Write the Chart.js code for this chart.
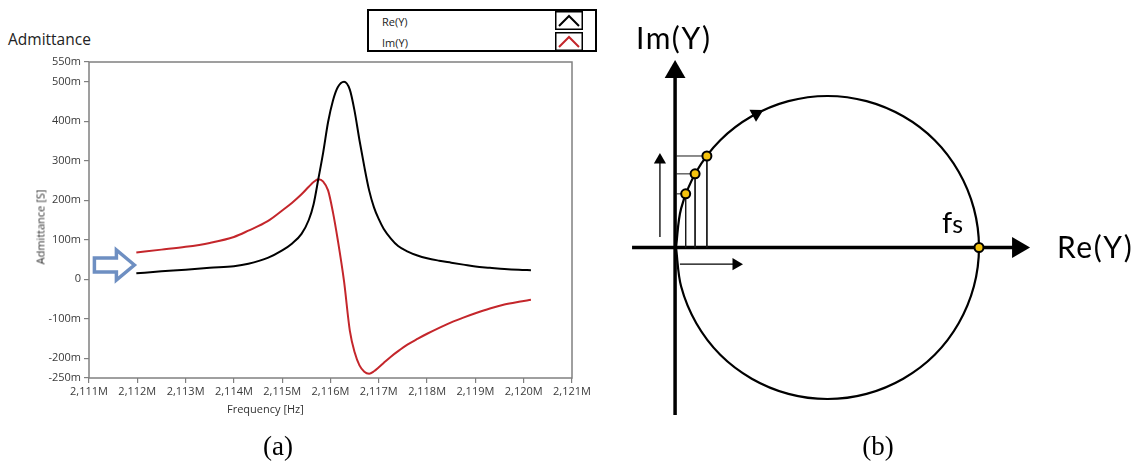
<!DOCTYPE html>
<html lang="en">
<head>
<meta charset="utf-8">
<title>Admittance of the resonator</title>
<script src="https://cdn.jsdelivr.net/npm/chart.js@4.4.1/dist/chart.umd.min.js"></script>
<style>
  body { margin: 0; background: #fff; }
  #page { position: relative; width: 1140px; height: 463px; overflow: hidden; }
  #page canvas, .txt { position: absolute; }
  .txt { white-space: nowrap; line-height: 1; color: #000; }
  .ui { font-family: 'Open Sans', sans-serif; }
  .sketch { font-family: Lato, sans-serif; letter-spacing: 1.5px; }
  .cap { font-family: 'Liberation Serif', serif; font-size: 27px; width: 100px; text-align: center; }
  #legend { position: absolute; left: 367px; top: 9px; width: 230px; height: 43px; box-sizing: border-box; border: 2px solid #000; background: #fff; }
  #legend .row { position: absolute; left: 0; width: 100%; height: 20px; }
  #legend .name { position: absolute; left: 13px; top: 3px; font: 11px 'Open Sans', sans-serif; color: #222; }
  #legend svg { position: absolute; left: 186px; top: 0; }
</style>
</head>
<body>
<div id="page">
  <div class="txt ui" style="left:8px;top:32px;font-size:15.5px;color:#222">Admittance</div>
  <div id="legend"></div>
  <canvas id="adm" width="600" height="425" style="left:0;top:0"></canvas>
  <div class="txt ui" style="left:227px;top:403px;font-size:11px;color:#333">Frequency [Hz]</div>
  <div class="txt ui" style="left:40px;top:227px;font-size:11px;color:#333;transform:translate(-50%,-50%) rotate(-90deg)">Admittance [S]</div>

  <!-- canvas is 12px larger on each side: Chart.js keeps that much room for the arrowheads -->
  <canvas id="nyq" width="564" height="454" style="left:588px;top:-12px"></canvas>
  <div class="txt sketch" style="left:636px;top:22px;font-size:30px">Im(Y)</div>
  <div class="txt sketch" style="left:1057px;top:231px;font-size:30px">Re(Y)</div>
  <div class="txt sketch" style="left:942px;top:207px;font-size:29px;letter-spacing:0">f<span style="font-size:25px">s</span></div>

  <div class="txt cap" style="left:228px;top:433px">(a)</div>
  <div class="txt cap" style="left:828px;top:433px">(b)</div>
</div>

<script>
// ---- (a) admittance sweep, frequency in kHz, admittance in mS ----
const freqKHz = [2111.98, 2112.5, 2113.0, 2113.5, 2114.0, 2114.3, 2114.7, 2115.0, 2115.2, 2115.4,
  2115.55, 2115.65, 2115.75, 2115.85, 2115.95, 2116.05, 2116.15, 2116.28, 2116.4, 2116.5,
  2116.6, 2116.7, 2116.8, 2116.9, 2117.0, 2117.1, 2117.25, 2117.4, 2117.6, 2117.8,
  2118.0, 2118.25, 2118.5, 2118.75, 2119.0, 2119.3, 2119.6, 2119.9, 2120.15];
const reY = [15, 20, 24, 29, 33, 39, 54, 73, 90, 115,
  150, 190, 255, 322, 398, 452, 486, 500, 480, 425,
  352, 285, 225, 182, 152, 128, 103, 84, 70, 60,
  53, 47, 42, 37, 32, 29, 26, 24, 23];
const imY = [68, 75, 82, 92, 107, 123, 147, 174, 193, 215,
  234, 246, 253, 247, 225, 170, 100, -5, -130, -185,
  -218, -234, -239, -233, -223, -212, -196, -182, -165, -151,
  -138, -123, -109, -97, -86, -74, -64, -57, -52];
const yTicks = [-250, -200, -100, 0, 100, 200, 300, 400, 500, 550];
const seriesNames = ['Re(Y)', 'Im(Y)'];
const seriesColors = ['#000000', '#c4262b'];
const arrowTip = { x: 2111.94, y: 36 };

// ---- (b) admittance circle, Re(Y) scaled so that f_s lands on 1 ----
const circleRe = [0, 0.017, 0.067, 0.146, 0.25, 0.371, 0.5, 0.629, 0.75, 0.854, 0.933, 0.983, 1,
  0.983, 0.933, 0.854, 0.75, 0.629, 0.5, 0.371, 0.25, 0.146, 0.067, 0.017, 0];
const circleIm = [0, 0.129, 0.25, 0.354, 0.433, 0.483, 0.5, 0.483, 0.433, 0.354, 0.25, 0.129, 0,
  -0.129, -0.25, -0.354, -0.433, -0.483, -0.5, -0.483, -0.433, -0.354, -0.25, -0.129, 0];
const sampleRe = [0.032, 0.063, 0.102];
const sampleIm = [0.177, 0.243, 0.302];
const fsPoint = { x: 1, y: 0 };
const sweepArrow = { x: 0.265, y: 0.441 };

// legend box
const legend = document.getElementById('legend');
seriesNames.forEach((name, i) => {
  const row = document.createElement('div');
  row.className = 'row';
  row.style.top = (i * 21) + 'px';
  row.innerHTML = '<span class="name">' + name + '</span>' +
    '<svg width="28" height="19"><rect x="0.75" y="0.75" width="26.5" height="17.5" fill="#fff" stroke="#000" stroke-width="1.5"/>' +
    '<polyline points="4,15 14,5 24,15" fill="none" stroke="' + seriesColors[i] + '" stroke-width="2"/></svg>';
  legend.appendChild(row);
});

const plotFrame = {
  id: 'plotFrame',
  afterDraw(chart) {
    const { ctx, chartArea: a } = chart;
    ctx.save();
    ctx.strokeStyle = '#808080';
    ctx.lineWidth = 1.5;
    ctx.strokeRect(a.left, a.top, a.right - a.left, a.bottom - a.top);
    ctx.restore();
  }
};

// hollow blue arrow pointing at where the sweep starts
const startMarker = {
  id: 'startMarker',
  afterDraw(chart) {
    const { ctx, scales } = chart;
    const tx = scales.x.getPixelForValue(arrowTip.x);
    const ty = scales.y.getPixelForValue(arrowTip.y);
    const shape = [[0, 0], [-18, -15], [-18, -7], [-40, -7], [-40, 7], [-18, 7], [-18, 15]];
    ctx.save();
    ctx.beginPath();
    shape.forEach(([dx, dy], i) => i ? ctx.lineTo(tx + dx, ty + dy) : ctx.moveTo(tx + dx, ty + dy));
    ctx.closePath();
    ctx.fillStyle = '#fff';
    ctx.fill();
    ctx.strokeStyle = '#6e8fc2';
    ctx.lineWidth = 3.5;
    ctx.lineJoin = 'miter';
    ctx.stroke();
    ctx.restore();
  }
};

const tickFont = { family: 'Open Sans', size: 11 };
const edgeGrid = { drawOnChartArea: false, tickLength: 5, color: '#808080', lineWidth: 1.2 };

new Chart(document.getElementById('adm'), {
  type: 'line',
  data: {
    datasets: [reY, imY].map((vals, i) => ({
      label: seriesNames[i],
      data: vals.map((v, k) => ({ x: freqKHz[k], y: v })),
      borderColor: seriesColors[i],
      borderWidth: 2,
      pointRadius: 0,
      pointHoverRadius: 0,
      cubicInterpolationMode: 'monotone'
    }))
  },
  options: {
    responsive: false,
    animation: false,
    layout: { padding: { left: 0, top: 62, right: 28, bottom: 0 } },
    plugins: { legend: { display: false }, tooltip: { enabled: false } },
    scales: {
      x: {
        type: 'linear', min: 2111, max: 2121,
        afterFit: s => { s.height = 47; },
        grid: edgeGrid,
        border: { display: false },
        ticks: {
          stepSize: 1, autoSkip: false, maxRotation: 0, padding: 2,
          color: '#3a3a3a', font: tickFont,
          callback: v => (v / 1000).toFixed(3).replace('.', ',') + 'M'
        }
      },
      y: {
        min: -250, max: 550,
        afterFit: s => { s.width = 89; },
        afterBuildTicks: s => { s.ticks = yTicks.map(v => ({ value: v })); },
        grid: edgeGrid,
        border: { display: false },
        ticks: {
          padding: 3, color: '#3a3a3a', font: tickFont,
          callback: v => v === 0 ? '0' : v + 'm'
        }
      }
    }
  },
  plugins: [plotFrame, startMarker]
});

// ---- (b) ----
const pts = (xs, ys) => xs.map((x, i) => ({ x, y: ys[i] }));
const stroke = (data, width, extra) => Object.assign({
  data, showLine: true, borderColor: '#000', borderWidth: width, pointRadius: 0,
  pointStyle: 'triangle', pointBackgroundColor: '#000', pointBorderWidth: 0
}, extra);

const samples = pts(sampleRe, sampleIm);
const projections = [];
samples.forEach(p => {
  projections.push(stroke([{ x: p.x, y: p.y }, { x: p.x, y: 0 }], 1, { borderColor: '#1a1a1a' }));
  projections.push(stroke([{ x: 0, y: p.y }, { x: p.x, y: p.y }], 1, { borderColor: '#1a1a1a' }));
});

new Chart(document.getElementById('nyq'), {
  type: 'scatter',
  data: {
    datasets: [
      {
        data: samples.concat([fsPoint]), showLine: false,
        pointRadius: 4.5, pointBackgroundColor: '#f4c20d', pointBorderColor: '#000', pointBorderWidth: 2
      },
      stroke([sweepArrow], 0, { showLine: false, pointRadius: 8, pointRotation: 62 }),
      stroke(pts(circleRe, circleIm), 2.2, { tension: 0.34 }),
      ...projections,
      // small direction arrows next to the axes
      stroke([{ x: -0.053, y: 0.035 }, { x: -0.053, y: 0.289 }], 1.3, { pointRadius: [0, 7] }),
      stroke([{ x: 0.013, y: -0.055 }, { x: 0.198, y: -0.055 }], 1.3, { pointRadius: [0, 7], pointRotation: 90 }),
      // Re and Im axes
      stroke([{ x: -0.145, y: 0 }, { x: 1.129, y: 0 }], 3.5, { pointRadius: [0, 12], pointRotation: 90 }),
      stroke([{ x: -0.003, y: -0.553 }, { x: -0.003, y: 0.579 }], 3.5, { pointRadius: [0, 12] })
    ]
  },
  options: {
    responsive: false,
    animation: false,
    layout: { padding: 0 },
    plugins: { legend: { display: false }, tooltip: { enabled: false } },
    scales: {
      x: { type: 'linear', display: false, min: -0.2508, max: 1.5314 },
      y: { type: 'linear', display: false, min: -0.6023, max: 0.8168 }
    }
  }
});
</script>
</body>
</html>
